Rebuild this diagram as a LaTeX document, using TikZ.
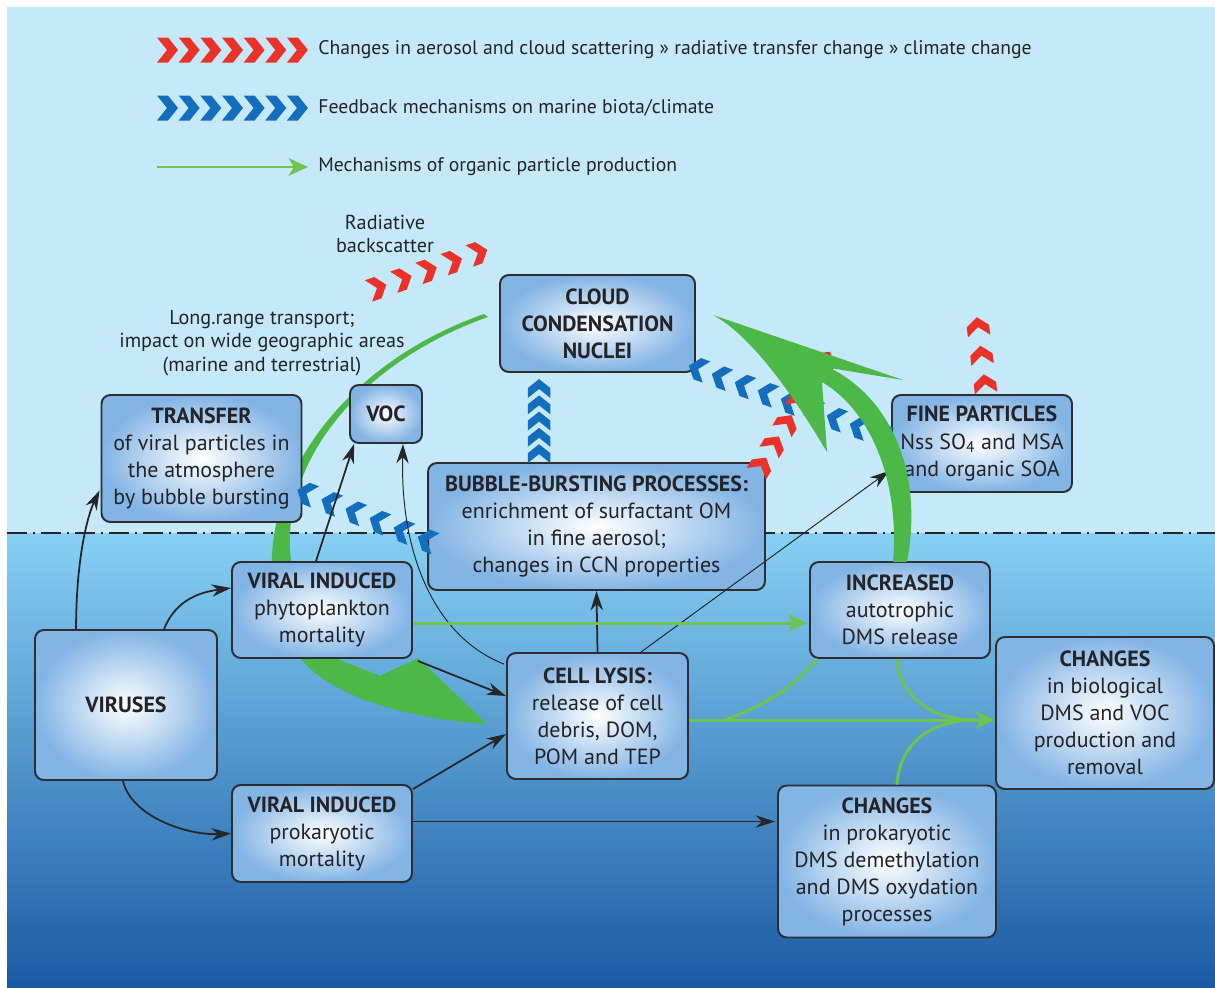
\documentclass[tikz,border=0pt]{standalone}
\usepackage{fontspec}
\setmainfont{PT Sans}
\usetikzlibrary{arrows.meta, calc, decorations.markings}
\definecolor{skyblue}{RGB}{198,233,249}
\definecolor{seatop}{RGB}{135,208,244}
\definecolor{seamid}{RGB}{84,158,220}
\definecolor{seabot}{RGB}{26,90,164}
\definecolor{boxedge}{RGB}{130,180,228}
\definecolor{boxframe}{RGB}{45,45,50}
\definecolor{txt}{RGB}{35,35,40}
\definecolor{chevred}{RGB}{236,50,40}
\definecolor{chevblue}{RGB}{20,110,190}
\definecolor{leafgreen}{RGB}{76,184,72}
\definecolor{linegreen}{RGB}{110,196,78}

\begin{document}
\begin{tikzpicture}[x=0.02cm, y=-0.02cm,
        box/.style={draw=boxframe, line width=1.1pt, rounded corners=5pt, inner color=white, outer color=boxedge, align=center, text=txt, inner sep=0pt, font=\fontsize{12.5}{15.4}\selectfont},
        legend/.style={anchor=west, text=txt, inner sep=0pt, font=\fontsize{11.2}{13.4}\selectfont},
        note/.style={align=center, text=txt, inner sep=0pt, font=\fontsize{11.5}{13.4}\selectfont},
        arr/.style={-{Stealth[length=11pt, width=7pt, inset=3.5pt]}, line width=1pt, draw=black!85},
        thinarr/.style={arr, line width=0.55pt},
        garr/.style={-{Stealth[length=11pt, width=10pt, inset=3pt]}, line width=1.7pt, draw=linegreen},
        gline/.style={line width=1.7pt, draw=linegreen},
        chev/.style n args={3}{decoration={markings, mark=between positions 0 and 1 step #2 with {\fill[#1, scale=#3] (-0.2cm,0.25cm) -- (0.02cm,0.25cm) -- (0.22cm,0cm) -- (0.02cm,-0.25cm) -- (-0.2cm,-0.25cm) -- (0cm,0cm) -- cycle;}}, decorate}
    ]
    \useasboundingbox (0,0) rectangle (1215,988);
    \fill[white] (0,0) rectangle (1215,988);
    \fill[skyblue] (7,7) rectangle (1215,533);
    \shade[top color=seatop, middle color=seamid, bottom color=seabot] (7,533) rectangle (1215,988);
    \draw[line width=1.6pt, black!85, dash pattern=on 0.4cm off 0.12cm on 0.04cm off 0.12cm] (7,533) -- (1215,533);

    \fill[leafgreen] (484,314) .. controls (310,375) and (225,540) .. (298,655) .. controls (330,700) and (420,720) .. (487,724) -- (418,658) -- (380,676) -- (340,660) .. controls (228,540) and (315,378) .. (488,317) -- cycle;

    \node[legend] (leg1) at (318,50) {Changes in aerosol and cloud scattering » radiative transfer change » climate change};
    \node[legend] (leg2) at (318,108) {Feedback mechanisms on marine biota/climate};
    \node[legend] (leg3) at (318,167) {Mechanisms of organic particle production};
    \path[chev={chevred}{0.1666}{1}] ($(leg1.west)+(-151,0)$) -- ($(leg1.west)+(-21,0)$);
    \path[chev={chevblue}{0.1666}{1}] ($(leg2.west)+(-151,0)$) -- ($(leg2.west)+(-21,0)$);
    \draw[garr] ($(leg3.west)+(-161,0)$) -- ($(leg3.west)+(-10,0)$);

    \node[note] (rb) at (385,234) {Radiative\\backscatter};
    \node[note] (lrt) at (262,343) {Long.range transport;\\impact on wide geographic areas\\(marine and terrestrial)};

    \node[box, minimum width=3.9cm, minimum height=1.94cm] (ccn) at (597.5,323.5) {\textbf{CLOUD}\\\textbf{CONDENSATION}\\\textbf{NUCLEI}};
    \node[box, minimum width=4cm, minimum height=2.54cm] (transfer) at (201.5,458.5) {\textbf{TRANSFER}\\of viral particles in\\the atmosphere\\by bubble bursting};
    \node[box, minimum width=1.44cm, minimum height=1.16cm] (voc) at (386,414) {\textbf{VOC}};
    \node[box, minimum width=3.6cm, minimum height=1.94cm] (fine) at (982,443.5) {\textbf{FINE PARTICLES}\\Nss SO\textsubscript{4} and MSA\\and organic SOA};
    \node[box, minimum width=6.74cm, minimum height=2.54cm] (bubble) at (596.5,526.5) {\textbf{BUBBLE-BURSTING PROCESSES:}\\enrichment of surfactant OM\\in fine aerosol;\\changes in CCN properties};
    \node[box, minimum width=3.6cm, minimum height=1.92cm] (phyto) at (322,610) {\textbf{VIRAL INDUCED}\\phytoplankton\\mortality};
    \node[box, minimum width=3.64cm, minimum height=3cm] (viruses) at (126,705) {\textbf{VIRUSES}};
    \node[box, minimum width=3.6cm, minimum height=1.92cm] (increased) at (900,610) {\textbf{INCREASED}\\autotrophic\\DMS release};
    \node[box, minimum width=3.62cm, minimum height=2.52cm] (cell) at (597.5,716) {\textbf{CELL LYSIS:}\\release of cell\\debris, DOM,\\POM and TEP};
    \node[box, minimum width=4.36cm, minimum height=3.04cm] (changesbio) at (1105,713) {\textbf{CHANGES}\\in biological\\DMS and VOC\\production and\\removal};
    \node[box, minimum width=3.6cm, minimum height=1.94cm] (prok) at (322,833.5) {\textbf{VIRAL INDUCED}\\prokaryotic\\mortality};
    \node[box, minimum width=4.36cm, minimum height=3.04cm] (changesprok) at (887,861.5) {\textbf{CHANGES}\\in prokaryotic\\DMS demethylation\\and DMS oxydation\\processes};

    \path[chev={chevred}{0.2499}{0.9}] (377,288) -- (478,253);
    \path[chev={chevblue}{0.2499}{0.9}] ($(bubble.north west)+(112,-8)$) -- ($(ccn.south west)+(40,16)$);
    \path[chev={chevblue}{0.1249}{0.9}] ($(fine.west)+(-9,-8)$) -- ($(ccn.south east)+(2,-4)$);
    \path[chev={chevred}{0.1999}{0.9}] ($(bubble.north east)+(-5,4)$) -- (825,360);
    \path[chev={chevred}{0.4999}{0.9}] ($(fine.north)+(3,-10)$) -- ($(fine.north)+(-4,-67)$);
    \path[chev={chevblue}{0.1999}{0.9}] ($(bubble.west)+(0,14)$) -- ($(transfer.east)+(4,35)$);

    \draw[arr] ($(viruses.north west)+(42,0)$) .. controls +(0,-70) and +(-12,25) .. ($(transfer.west)+(-1,32)$);
    \draw[arr] ($(viruses.north west)+(130,0)$) .. controls +(12,-30) and +(-30,4) .. ($(phyto.west)+(0,-22)$);
    \draw[arr] ($(viruses.south)+(-3,0)$) .. controls +(8,35) and +(-45,2) .. (prok.west);
    \draw[arr] ($(phyto.north)+(-6,0)$) -- ($(voc.south west)+(5,0)$);
    \draw[arr] ($(phyto.south east)+(5,2)$) -- ($(cell.west)+(0,-20)$);
    \draw[arr] ($(prok.north east)+(0,5)$) -- ($(cell.west)+(0,18)$);
    \draw[arr] ($(prok.east)+(0,-12)$) -- ($(changesprok.west)+(-2,-40)$);
    \draw[arr] (cell.north) -- (bubble.south);
    \draw[thinarr] ($(cell.north west)+(-2,12)$) .. controls +(-65,-25) and +(-3,117) .. ($(voc.south)+(17,0)$);
    \draw[thinarr] ($(cell.north east)+(-48,0)$) -- ($(fine.south west)+(-2,-22)$);

    \draw[garr] ($(phyto.east)+(0,13)$) -- ($(increased.west)+(-2,13)$);
    \draw[garr] ($(cell.east)+(0,4)$) -- ($(changesbio.west)+(0,7)$);
    \draw[gline] ($(cell.east)+(36,4)$) .. controls +(40,-15) and +(-25,30) .. ($(increased.south west)+(8,0)$);
    \draw[gline] ($(increased.south)+(-3,0)$) .. controls +(3,40) and +(-40,0) .. ($(changesbio.west)+(-20,7)$);
    \draw[gline] ($(changesprok.north)+(10,0)$) .. controls +(3,-45) and +(-40,0) .. ($(changesbio.west)+(-20,7)$);

    \fill[leafgreen] (713,315) -- (903,380) -- (830,368) .. controls (885,395) and (925,465) .. (907,562) -- (893,562) .. controls (900,480) and (870,410) .. (822,382) -- (827,452) .. controls (790,390) and (750,335) .. (713,315) -- cycle;
\end{tikzpicture}
\end{document}
